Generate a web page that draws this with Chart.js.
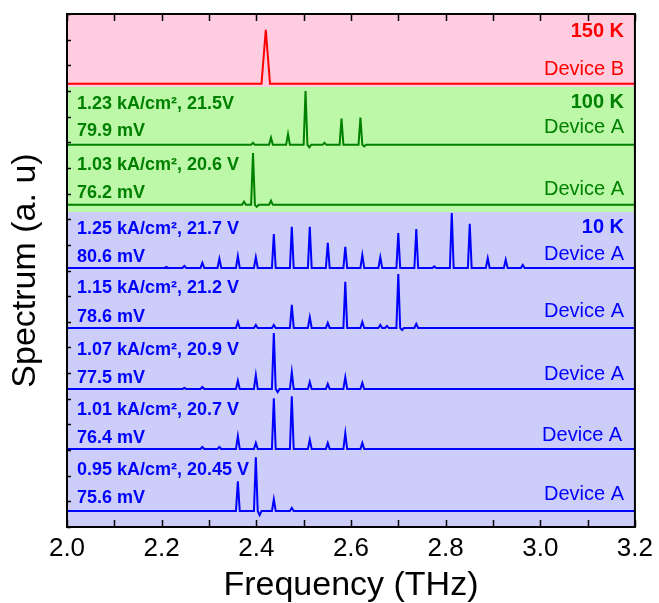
<!DOCTYPE html>
<html>
<head>
<meta charset="utf-8">
<script src="https://cdn.jsdelivr.net/npm/chart.js@4.4.0/dist/chart.umd.min.js"></script>
<style>
  html, body { margin: 0; padding: 0; background: #fff; }
</style>
</head>
<body>
<canvas id="spectra" width="659" height="603"></canvas>
<script>
(function () {
    "use strict";

    // ── Data (frequency in THz, intensity in a.u.) ──
    const xRange = [2.0, 3.2];
    const yRange = [0, 10];

    // baseline offset of each stacked spectrum, top to bottom
    const offsets = [8.64, 7.45, 6.28, 5.05, 3.88, 2.69, 1.52, 0.31];

    // [frequency, height above baseline]
    const peaks150B = [[2.420, 1.05]];
    const peaks100A_123 = [[2.393, 0.04], [2.431, 0.14], [2.467, 0.21], [2.504, 1.05], [2.512, -0.05],
        [2.544, 0.04], [2.580, 0.51], [2.620, 0.53], [2.628, -0.03]];
    const peaks100A_103 = [[2.374, 0.06], [2.393, 1.01], [2.401, -0.04], [2.431, 0.08]];
    const peaks10A_125 = [[2.210, 0.02], [2.248, 0.04], [2.286, 0.10], [2.322, 0.18], [2.361, 0.23],
        [2.399, 0.21], [2.437, 0.66], [2.475, 0.80], [2.513, 0.80], [2.551, 0.49], [2.588, 0.41],
        [2.624, 0.25], [2.662, 0.21], [2.700, 0.68], [2.738, 0.76], [2.776, 0.03], [2.813, 1.07],
        [2.851, 0.86], [2.889, 0.19], [2.927, 0.16], [2.963, 0.06]];
    const peaks10A_115 = [[2.361, 0.12], [2.399, 0.06], [2.437, 0.06], [2.475, 0.45], [2.513, 0.21],
        [2.551, 0.10], [2.588, 0.90], [2.624, 0.12], [2.662, 0.06], [2.676, 0.04], [2.700, 1.05],
        [2.708, -0.04], [2.738, 0.08]];
    const peaks10A_107 = [[2.248, 0.02], [2.286, 0.04], [2.361, 0.16], [2.399, 0.27], [2.437, 1.09],
        [2.445, -0.06], [2.475, 0.33], [2.513, 0.14], [2.551, 0.10], [2.588, 0.23], [2.624, 0.12]];
    const peaks10A_101 = [[2.286, 0.04], [2.322, 0.04], [2.361, 0.25], [2.399, 0.12], [2.437, 0.99],
        [2.475, 1.03], [2.513, 0.18], [2.551, 0.12], [2.588, 0.31], [2.624, 0.12]];
    const peaks10A_095 = [[2.361, 0.58], [2.399, 1.05], [2.407, -0.08], [2.437, 0.23], [2.475, 0.06]];

    // temperature bands (a.u. edges, bottom to top): 10 K, 100 K, 150 K
    const bandEdges = [0, 6.14, 8.58, 10];

    const leftLabels = [
        ["1.23 kA/cm\u00B2, 21.5V", "79.9 mV"],
        ["1.03 kA/cm\u00B2, 20.6 V", "76.2 mV"],
        ["1.25 kA/cm\u00B2, 21.7 V", "80.6 mV"],
        ["1.15 kA/cm\u00B2, 21.2 V", "78.6 mV"],
        ["1.07 kA/cm\u00B2, 20.9 V", "77.5 mV"],
        ["1.01 kA/cm\u00B2, 20.7 V", "76.4 mV"],
        ["0.95 kA/cm\u00B2, 20.45 V", "75.6 mV"]
    ];

    const COLORS = {
        red: "#FF0000",
        green: "#008000",
        blue: "#0000FF",
        pink: "#FFCCE0",
        lime: "#BDF8A9",
        lilac: "#CDCDFA"
    };
    const FONT = "'Liberation Sans', Arial, sans-serif";

    const spectra = [
        { peaks: peaks150B, color: COLORS.red, halfWidth: 0.009 },
        { peaks: peaks100A_123, color: COLORS.green, halfWidth: 0.004 },
        { peaks: peaks100A_103, color: COLORS.green, halfWidth: 0.004 },
        { peaks: peaks10A_125, color: COLORS.blue, halfWidth: 0.004 },
        { peaks: peaks10A_115, color: COLORS.blue, halfWidth: 0.004 },
        { peaks: peaks10A_107, color: COLORS.blue, halfWidth: 0.004 },
        { peaks: peaks10A_101, color: COLORS.blue, halfWidth: 0.004 },
        { peaks: peaks10A_095, color: COLORS.blue, halfWidth: 0.004 }
    ];

    function buildLine(peaks, base, hw) {
        const pts = [{ x: xRange[0], y: base }];
        peaks.forEach(([f, h]) => {
            pts.push({ x: f - hw, y: base });
            pts.push({ x: f, y: base + h });
            pts.push({ x: f + hw, y: base });
        });
        pts.push({ x: xRange[1], y: base });
        return pts;
    }

    const datasets = spectra.map((s, i) => ({
        data: buildLine(s.peaks, offsets[i], s.halfWidth),
        borderColor: s.color,
        borderWidth: 2,
        pointRadius: 0,
        tension: 0,
        fill: false
    }));

    // text placed in data coordinates
    const texts = [
        { t: "150 K", x: 3.177, y: 9.65, c: COLORS.red, b: true, r: true },
        { t: "Device B", x: 3.177, y: 8.91, c: COLORS.red, b: false, r: true },
        { t: "100 K", x: 3.177, y: 8.27, c: COLORS.green, b: true, r: true },
        { t: "Device A", x: 3.177, y: 7.78, c: COLORS.green, b: false, r: true },
        { t: "Device A", x: 3.177, y: 6.57, c: COLORS.green, b: false, r: true },
        { t: "10 K", x: 3.177, y: 5.83, c: COLORS.blue, b: true, r: true },
        { t: "Device A", x: 3.177, y: 5.32, c: COLORS.blue, b: false, r: true },
        { t: "Device A", x: 3.177, y: 4.21, c: COLORS.blue, b: false, r: true },
        { t: "Device A", x: 3.177, y: 2.98, c: COLORS.blue, b: false, r: true },
        { t: "Device A", x: 3.173, y: 1.79, c: COLORS.blue, b: false, r: true },
        { t: "Device A", x: 3.177, y: 0.64, c: COLORS.blue, b: false, r: true }
    ];
    const leftRows = [[8.25, 7.72], [7.06, 6.51], [5.81, 5.26], [4.66, 4.09], [3.45, 2.90], [2.28, 1.74], [1.11, 0.57]];
    leftLabels.forEach((pair, i) => {
        const c = i < 2 ? COLORS.green : COLORS.blue;
        texts.push({ t: pair[0], x: 2.021, y: leftRows[i][0], c: c, b: true, r: false, s: 18 });
        texts.push({ t: pair[1], x: 2.021, y: leftRows[i][1], c: c, b: true, r: false, s: 18 });
    });

    const decor = {
        id: "decor",
        beforeDatasetsDraw(chart) {
            const { ctx, chartArea: a, scales: { y } } = chart;
            const colors = [COLORS.lilac, COLORS.lime, COLORS.pink];
            ctx.save();
            for (let i = 0; i < colors.length; i++) {
                const top = y.getPixelForValue(bandEdges[i + 1]);
                const bot = y.getPixelForValue(bandEdges[i]);
                ctx.fillStyle = colors[i];
                ctx.fillRect(a.left, top, a.right - a.left, bot - top);
            }
            ctx.restore();
        },
        afterDatasetsDraw(chart) {
            const { ctx, scales: { x, y } } = chart;
            ctx.save();
            ctx.textBaseline = "middle";
            texts.forEach(o => {
                const size = o.s || 20;
                ctx.font = (o.b ? "bold " : "") + size + "px " + FONT;
                ctx.fillStyle = o.c;
                ctx.textAlign = o.r ? "right" : "left";
                ctx.fillText(o.t, x.getPixelForValue(o.x), y.getPixelForValue(o.y));
            });
            ctx.restore();
        },
        afterDraw(chart) {
            const { ctx, chartArea: a, scales: { x, y } } = chart;
            ctx.save();
            ctx.strokeStyle = "#000";
            ctx.lineWidth = 1.5;
            ctx.beginPath();
            x.ticks.forEach(t => {
                const px = Math.round(x.getPixelForValue(t.value)) + 0.5;
                ctx.moveTo(px, a.bottom);
                ctx.lineTo(px, a.bottom - 7);
                ctx.moveTo(px, a.top);
                ctx.lineTo(px, a.top + 7);
            });
            y.ticks.forEach(t => {
                const py = Math.round(y.getPixelForValue(t.value)) + 0.5;
                ctx.moveTo(a.left, py);
                ctx.lineTo(a.left + 4, py);
            });
            ctx.stroke();
            ctx.lineWidth = 2;
            ctx.strokeRect(a.left, a.top, a.right - a.left, a.bottom - a.top);
            ctx.restore();
        }
    };

    new Chart(document.getElementById("spectra"), {
        type: "line",
        data: { datasets: datasets },
        options: {
            responsive: false,
            animation: false,
            events: [],
            layout: { padding: { top: 14, right: 21, left: 0, bottom: 0 } },
            plugins: { legend: { display: false }, tooltip: { enabled: false } },
            scales: {
                x: {
                    type: "linear",
                    min: xRange[0],
                    max: xRange[1],
                    grid: { display: false, drawTicks: false },
                    border: { display: false },
                    ticks: {
                        stepSize: 0.1,
                        autoSkip: false,
                        maxRotation: 0,
                        padding: 6,
                        color: "#000",
                        font: { family: FONT, size: 26 },
                        callback: v => (Math.round(v * 10) % 2 === 0 ? v.toFixed(1) : "")
                    },
                    title: {
                        display: true,
                        text: "Frequency (THz)",
                        color: "#000",
                        padding: 0,
                        font: { family: FONT, size: 34, lineHeight: 1.05 }
                    },
                    afterFit: s => { s.height = 76; }
                },
                y: {
                    min: yRange[0],
                    max: yRange[1],
                    grid: { display: false, drawTicks: false },
                    border: { display: false },
                    ticks: { display: false, stepSize: 0.5 },
                    title: {
                        display: true,
                        text: "Spectrum (a. u)",
                        color: "#000",
                        padding: { top: 5, bottom: 0 },
                        font: { family: FONT, size: 34 }
                    },
                    afterFit: s => { s.width = 67; }
                }
            }
        },
        plugins: [decor]
    });
})();
</script>
</body>
</html>
